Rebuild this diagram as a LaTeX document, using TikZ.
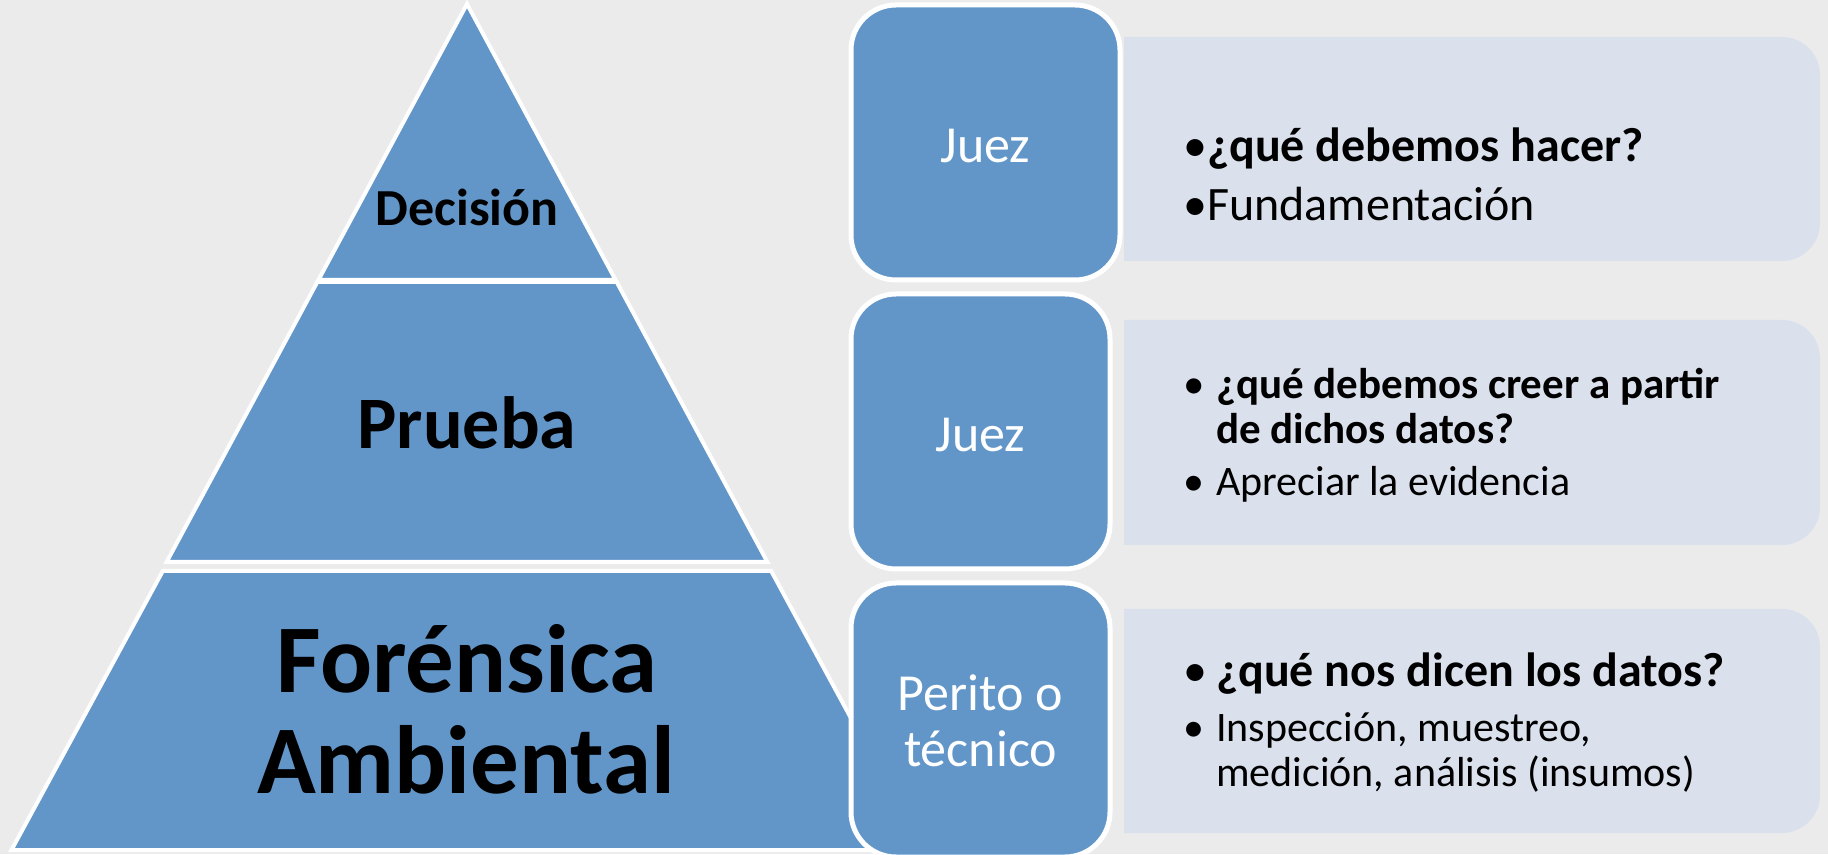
\documentclass[tikz,border=0pt]{standalone}
\usepackage{fontspec}
\setmainfont{Carlito}
\usetikzlibrary{positioning}
\definecolor{pagegray}{RGB}{235,235,235}
\definecolor{slateblue}{RGB}{98,150,201}
\definecolor{paleblue}{RGB}{219,225,236}
\tikzstyle{layer}=[
	fill=slateblue,
	draw=white,
	line width=4pt,
	line join=miter
]
\tikzstyle{role}=[
	rectangle,
	rounded corners=45pt,
	fill=slateblue,
	draw=white,
	line width=5pt,
	inner sep=0pt
]
\tikzstyle{answer}=[
	fill=paleblue
]
\tikzstyle{level}=[
	anchor=base,
	inner sep=0pt
]
\tikzstyle{actor}=[
	anchor=base,
	inner sep=0pt,
	text=white,
	font=\fontsize{52}{56}\selectfont
]
\tikzstyle{point}=[
	anchor=base west,
	inner sep=0pt
]

\begin{document}
\begin{tikzpicture}[x=1pt,y=1pt]
\useasboundingbox (0,0) rectangle (1828,854);
\clip (0,0) rectangle (1828,854);
\fill[pagegray] (0,0) rectangle (1828,854);

% pyramid
\draw[layer] (467,850) -- (615.6,574) -- (318.4,574) -- cycle;
\draw[layer] (317.3,572) -- (616.7,572) -- (767.4,292) -- (166.6,292) -- cycle;
\draw[layer] (162.8,283) -- (771.2,283) -- (922.5,4) -- (11.5,4) -- cycle;
\node[level, font=\fontsize{52}{56}\selectfont\bfseries] (Decision) at (467,628) {Decisión};
\node[level, font=\fontsize{74}{78}\selectfont\bfseries] (Prueba) at (467,405) {Prueba};
\node[level, font=\fontsize{97}{101}\selectfont\bfseries] (Forensica) at (467,161) {Forénsica};
\node[level, font=\fontsize{97}{101}\selectfont\bfseries] (Ambiental) at (466,60) {Ambiental};

% actors
\node[role, minimum width=269pt, minimum height=275pt] (JuezTop) at (985.5,711.5) {};
\node[role, minimum width=259pt, minimum height=275pt] (JuezMid) at (980.5,422.5) {};
\node[role, minimum width=259pt, minimum height=274pt] (Perito) at (980.5,134) {};
\node[actor] (JuezTopText) at (JuezTop |- 0,691) {Juez};
\node[actor] (JuezMidText) at (JuezMid |- 0,402) {Juez};
\node[actor] (PeritoText) at (Perito |- 0,143) {Perito o};
\node[actor] (TecnicoText) at (Perito |- 0,87) {técnico};

% questions
\fill[answer] (1124,817) -- (1782,817) arc[start angle=90, end angle=0, radius=38pt]
	-- (1820,631) arc[start angle=0, end angle=-90, radius=38pt] -- (1124,593) -- cycle;
\fill[answer] (1124,534) -- (1782,534) arc[start angle=90, end angle=0, radius=38pt]
	-- (1820,347) arc[start angle=0, end angle=-90, radius=38pt] -- (1124,309) -- cycle;
\fill[answer] (1124,245) -- (1782,245) arc[start angle=90, end angle=0, radius=38pt]
	-- (1820,59) arc[start angle=0, end angle=-90, radius=38pt] -- (1124,21) -- cycle;

\node[point, font=\fontsize{48}{52}\selectfont] (Hacer) at (1183,692) {•\textbf{¿qué debemos hacer?}};
\node[point, font=\fontsize{48}{52}\selectfont] (Fundamento) at (1183,633) {•Fundamentación};

\node[point, font=\fontsize{43}{46}\selectfont] (Creer) at (1183,455) {\makebox[33pt][l]{•}\textbf{¿qué debemos creer a partir}};
\node[point, font=\fontsize{43}{46}\selectfont\bfseries] (CreerB) at (1216,410) {de dichos datos?};
\node[point, font=\fontsize{42}{46}\selectfont] (Apreciar) at (1183,358) {\makebox[33pt][l]{•}Apreciar la evidencia};

\node[point, font=\fontsize{48}{52}\selectfont] (Dicen) at (1183,167) {\makebox[33pt][l]{•}\textbf{¿qué nos dicen los datos?}};
\node[point, font=\fontsize{42}{46}\selectfont] (Insumos) at (1183,112) {\makebox[33pt][l]{•}Inspección, muestreo,};
\node[point, font=\fontsize{42}{46}\selectfont] (InsumosB) at (1216,67) {medición, análisis (insumos)};
\end{tikzpicture}
\end{document}
